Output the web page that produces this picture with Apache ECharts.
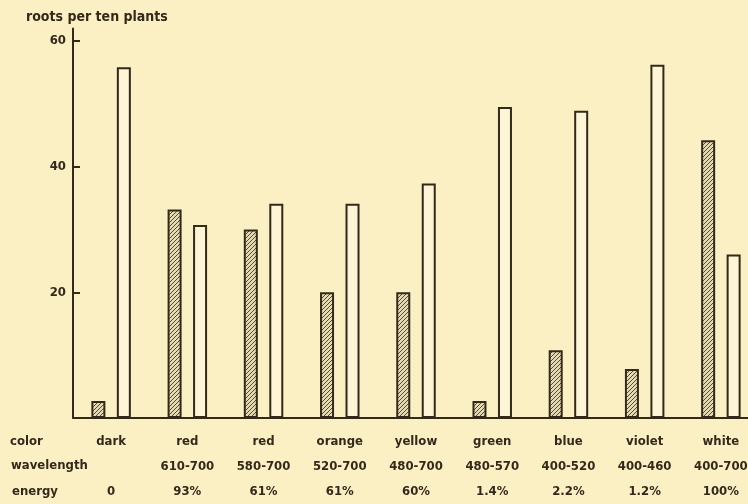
<!DOCTYPE html>
<html>
<head>
<meta charset="utf-8">
<script src="https://cdn.jsdelivr.net/npm/echarts@6/dist/echarts.min.js"></script>
<style>
  html, body { margin: 0; padding: 0; background: #fbf0c4; overflow: hidden; }
  /* canvas runs a little past the page edge so the last pair sits near the border */
  #chart { width: 759px; height: 504px; }
</style>
</head>
<body>
<div id="chart"></div>
<script>
// Root counts per ten plants under light of different colours
const colors = ['dark', 'red', 'red', 'orange', 'yellow', 'green', 'blue', 'violet', 'white'];
const wavelengths = ['', '610-700', '580-700', '520-700', '480-700', '480-570', '400-520', '400-460', '400-700'];
const energies = ['0', '93%', '61%', '61%', '60%', '1.4%', '2.2%', '1.2%', '100%'];
const hatchedValues = [2.7, 33.2, 30.0, 20.0, 20.0, 2.7, 10.8, 7.8, 44.2];
const openValues = [55.8, 30.7, 34.1, 34.1, 37.3, 49.5, 48.9, 56.2, 26.0];
const yTicks = [20, 40, 60];

const ink = '#33291a';
const paper = '#fbf0c4';
const font = '"DejaVu Sans Condensed", "DejaVu Sans", sans-serif';

// diagonal hatch tile for the shaded bars
function hatchTile() {
  const c = document.createElement('canvas');
  c.width = 4; c.height = 4;
  const g = c.getContext('2d');
  g.fillStyle = '#e4dab2';
  g.fillRect(0, 0, 4, 4);
  g.strokeStyle = '#5a4c30';
  g.lineWidth = 1;
  g.beginPath();
  g.moveTo(-1, 5); g.lineTo(5, -1);
  g.moveTo(-1, 1); g.lineTo(1, -1);
  g.moveTo(3, 5); g.lineTo(5, 3);
  g.stroke();
  return c;
}

const chart = echarts.init(document.getElementById('chart'));
chart.setOption({
  backgroundColor: paper,
  animation: false,
  textStyle: { fontFamily: font, color: ink },
  grid: { left: 73, right: 0, top: 28.4, bottom: 85, containLabel: false },
  xAxis: {
    type: 'category',
    data: colors.map((c, i) => c + '\n' + wavelengths[i] + '\n' + energies[i]),
    axisLine: { lineStyle: { color: ink, width: 2 } },
    axisTick: { show: false },
    axisLabel: {
      color: ink, fontFamily: font, fontSize: 13, fontWeight: 'bold', lineHeight: 25, margin: 11,
      interval: 0
    }
  },
  yAxis: {
    type: 'value', min: 0, max: 62,
    splitLine: { show: false },
    axisLine: { show: true, lineStyle: { color: ink, width: 2 } },
    axisTick: { show: true, inside: true, length: 7, lineStyle: { color: ink, width: 2 }, customValues: yTicks },
    axisLabel: { color: ink, fontFamily: font, fontSize: 13, fontWeight: 'bold', margin: 7, customValues: yTicks }
  },
  graphic: [
    { type: 'text', left: 26, top: 10, style: { text: 'roots per ten plants', font: 'bold 14px ' + font, fill: ink } },
    { type: 'text', left: 10, top: 435, style: { text: 'color', font: 'bold 13px ' + font, fill: ink } },
    { type: 'text', left: 11, top: 459, style: { text: 'wavelength', font: 'bold 13px ' + font, fill: ink } },
    { type: 'text', left: 12, top: 485, style: { text: 'energy', font: 'bold 13px ' + font, fill: ink } }
  ],
  series: [
    {
      type: 'bar', data: hatchedValues, barWidth: 14, barGap: '82%',
      itemStyle: { color: { image: hatchTile(), repeat: 'repeat' }, borderColor: ink, borderWidth: 2 }
    },
    {
      type: 'bar', data: openValues, barWidth: 14,
      itemStyle: { color: '#fdf5d6', borderColor: ink, borderWidth: 2 }
    }
  ]
});
</script>
</body>
</html>
